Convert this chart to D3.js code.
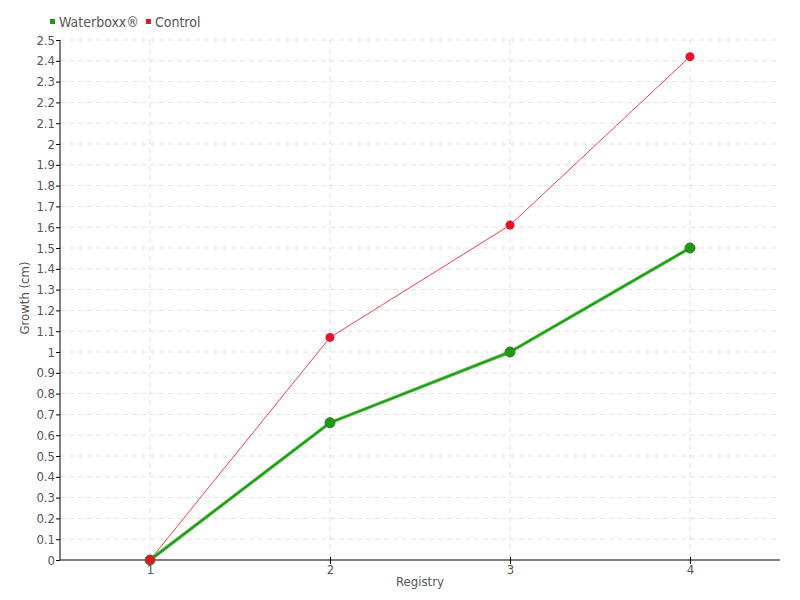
<!DOCTYPE html>
<html>
<head>
<meta charset="utf-8">
<script src="https://cdn.jsdelivr.net/npm/d3@7"></script>
<style>
body { margin: 0; background: #fff; }
text { font-family: "DejaVu Sans Condensed", sans-serif; fill: #555; }
</style>
</head>
<body>
<script>
var registry = [1, 2, 3, 4];
var waterboxx = [0, 0.66, 1.0, 1.5];
var control = [0, 1.07, 1.61, 2.42];
var yTicks = d3.range(0, 26).map(function(i) { return i / 10; });

var margin = { top: 40, right: 20, bottom: 40, left: 60 };
var width = 800 - margin.left - margin.right,
    height = 600 - margin.top - margin.bottom;

var x = d3.scaleLinear().domain([0.5, 4.5]).range([0, width]);
var y = d3.scaleLinear().domain([0, 2.5]).range([height, 0]);

var svg = d3.select("body").append("svg")
    .attr("width", 800)
    .attr("height", 600)
    .append("g")
    .attr("transform", "translate(" + margin.left + "," + margin.top + ")");

// grid
svg.append("g").selectAll("line.hgrid")
    .data(yTicks.slice(1))
    .enter().append("line")
    .attr("x1", 0).attr("x2", width)
    .attr("y1", function(d) { return y(d); })
    .attr("y2", function(d) { return y(d); })
    .attr("stroke", "#e2e2e2")
    .attr("stroke-dasharray", "5,4");

svg.append("g").selectAll("line.vgrid")
    .data(registry)
    .enter().append("line")
    .attr("x1", function(d) { return x(d); })
    .attr("x2", function(d) { return x(d); })
    .attr("y1", 0).attr("y2", height)
    .attr("stroke", "#e2e2e2")
    .attr("stroke-dasharray", "5,4");

// axes
var yAxis = d3.axisLeft(y)
    .tickValues(yTicks)
    .tickSize(4)
    .tickFormat(function(d) { return d3.format("~g")(d); });

var xAxis = d3.axisBottom(x)
    .tickValues(registry)
    .tickSize(4)
    .tickFormat(d3.format("d"));

var gy = svg.append("g").call(yAxis);
gy.select(".domain").attr("stroke", "#000").attr("d", "M0,0V" + height);
gy.selectAll(".tick line").attr("stroke", "#000");
gy.selectAll(".tick text").attr("x", -5).style("font-size", "13px").attr("fill", "#555");

var gx = svg.append("g")
    .attr("transform", "translate(0," + height + ")")
    .call(xAxis);
gx.select(".domain").attr("stroke", "#000").attr("d", "M0,0H" + width);
gx.selectAll(".tick line").attr("stroke", "#000").attr("y1", -3);
gx.selectAll(".tick text").attr("y", 5).style("font-size", "13px").attr("fill", "#555");

svg.append("text")
    .attr("transform", "rotate(-90)")
    .attr("x", -258)
    .attr("y", -31)
    .style("text-anchor", "middle")
    .style("font-size", "13px")
    .text("Growth (cm)");

svg.append("text")
    .attr("x", 360)
    .attr("y", height + 26)
    .style("text-anchor", "middle")
    .style("font-size", "13px")
    .text("Registry");

var line = d3.line()
    .x(function(d, i) { return x(registry[i]); })
    .y(function(d) { return y(d); });

// waterboxx
svg.append("path")
    .datum(waterboxx)
    .attr("d", line)
    .attr("fill", "none")
    .attr("stroke", "#6cc35c")
    .attr("stroke-width", 3.5);
svg.append("path")
    .datum(waterboxx)
    .attr("d", line)
    .attr("fill", "none")
    .attr("stroke", "#1a9a14")
    .attr("stroke-width", 1.8);
svg.append("g").selectAll("circle")
    .data(waterboxx)
    .enter().append("circle")
    .attr("cx", function(d, i) { return x(registry[i]); })
    .attr("cy", function(d) { return y(d); })
    .attr("r", 5)
    .attr("fill", "#1c9a14")
    .attr("stroke", "#2c7a22")
    .attr("stroke-width", 1);

// control
svg.append("path")
    .datum(control)
    .attr("d", line)
    .attr("fill", "none")
    .attr("stroke", "#f4404c")
    .attr("stroke-width", 1);
svg.append("g").selectAll("circle")
    .data(control)
    .enter().append("circle")
    .attr("cx", function(d, i) { return x(registry[i]); })
    .attr("cy", function(d) { return y(d); })
    .attr("r", 4.5)
    .attr("fill", "#e8102a");

// legend
var legend = d3.select("svg").append("g");
var items = [["Waterboxx®", "#1c9a14"], ["Control", "#e8102a"]];
var lx = 50;
items.forEach(function(it) {
    legend.append("rect")
        .attr("x", lx).attr("y", 19)
        .attr("width", 5).attr("height", 5)
        .attr("fill", it[1]);
    var t = legend.append("text")
        .attr("x", lx + 9).attr("y", 27)
        .style("font-size", "14px")
        .text(it[0]);
    lx += 9 + t.node().getComputedTextLength() + 7;
});
</script>
</body>
</html>
